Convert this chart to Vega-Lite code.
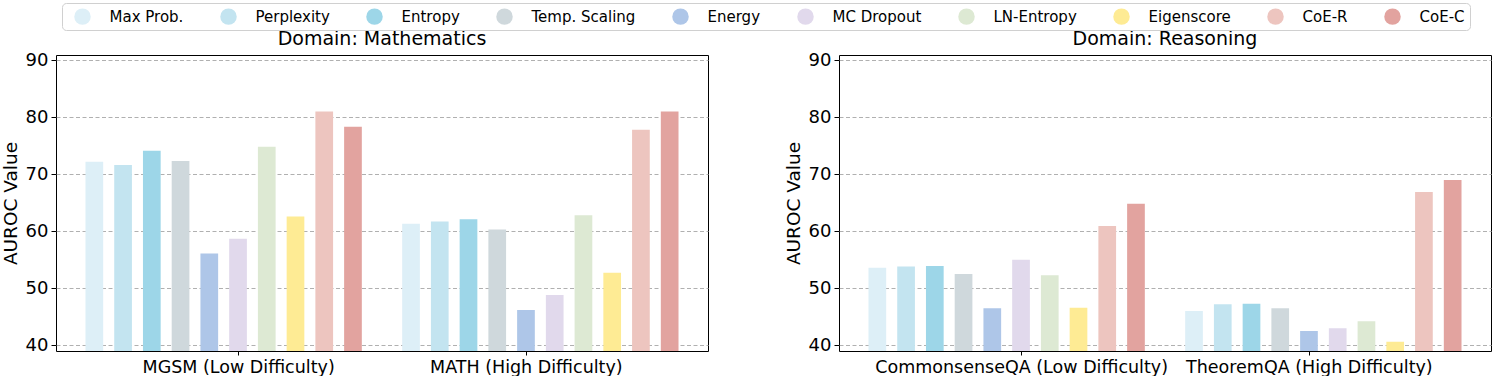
{
  "$schema": "https://vega.github.io/schema/vega-lite/v6.json",
  "padding": {"left": 0, "top": 2, "right": 0, "bottom": 0},
  "background": "white",
  "datasets": {
    "math": [
      {"dataset": "MGSM (Low Difficulty)", "method": "Max Prob.", "auroc": 72.2},
      {"dataset": "MGSM (Low Difficulty)", "method": "Perplexity", "auroc": 71.6},
      {"dataset": "MGSM (Low Difficulty)", "method": "Entropy", "auroc": 74.1},
      {"dataset": "MGSM (Low Difficulty)", "method": "Temp. Scaling", "auroc": 72.3},
      {"dataset": "MGSM (Low Difficulty)", "method": "Energy", "auroc": 56.1},
      {"dataset": "MGSM (Low Difficulty)", "method": "MC Dropout", "auroc": 58.7},
      {"dataset": "MGSM (Low Difficulty)", "method": "LN-Entropy", "auroc": 74.8},
      {"dataset": "MGSM (Low Difficulty)", "method": "Eigenscore", "auroc": 62.6},
      {"dataset": "MGSM (Low Difficulty)", "method": "CoE-R", "auroc": 81.0},
      {"dataset": "MGSM (Low Difficulty)", "method": "CoE-C", "auroc": 78.3},
      {"dataset": "MATH (High Difficulty)", "method": "Max Prob.", "auroc": 61.3},
      {"dataset": "MATH (High Difficulty)", "method": "Perplexity", "auroc": 61.7},
      {"dataset": "MATH (High Difficulty)", "method": "Entropy", "auroc": 62.1},
      {"dataset": "MATH (High Difficulty)", "method": "Temp. Scaling", "auroc": 60.3},
      {"dataset": "MATH (High Difficulty)", "method": "Energy", "auroc": 46.2},
      {"dataset": "MATH (High Difficulty)", "method": "MC Dropout", "auroc": 48.8},
      {"dataset": "MATH (High Difficulty)", "method": "LN-Entropy", "auroc": 62.8},
      {"dataset": "MATH (High Difficulty)", "method": "Eigenscore", "auroc": 52.7},
      {"dataset": "MATH (High Difficulty)", "method": "CoE-R", "auroc": 77.8},
      {"dataset": "MATH (High Difficulty)", "method": "CoE-C", "auroc": 81.0}
    ],
    "reasoning": [
      {"dataset": "CommonsenseQA (Low Difficulty)", "method": "Max Prob.", "auroc": 53.6},
      {"dataset": "CommonsenseQA (Low Difficulty)", "method": "Perplexity", "auroc": 53.8},
      {"dataset": "CommonsenseQA (Low Difficulty)", "method": "Entropy", "auroc": 53.9},
      {"dataset": "CommonsenseQA (Low Difficulty)", "method": "Temp. Scaling", "auroc": 52.5},
      {"dataset": "CommonsenseQA (Low Difficulty)", "method": "Energy", "auroc": 46.5},
      {"dataset": "CommonsenseQA (Low Difficulty)", "method": "MC Dropout", "auroc": 55.0},
      {"dataset": "CommonsenseQA (Low Difficulty)", "method": "LN-Entropy", "auroc": 52.3},
      {"dataset": "CommonsenseQA (Low Difficulty)", "method": "Eigenscore", "auroc": 46.6},
      {"dataset": "CommonsenseQA (Low Difficulty)", "method": "CoE-R", "auroc": 60.9},
      {"dataset": "CommonsenseQA (Low Difficulty)", "method": "CoE-C", "auroc": 64.8},
      {"dataset": "TheoremQA (High Difficulty)", "method": "Max Prob.", "auroc": 46.0},
      {"dataset": "TheoremQA (High Difficulty)", "method": "Perplexity", "auroc": 47.2},
      {"dataset": "TheoremQA (High Difficulty)", "method": "Entropy", "auroc": 47.3},
      {"dataset": "TheoremQA (High Difficulty)", "method": "Temp. Scaling", "auroc": 46.5},
      {"dataset": "TheoremQA (High Difficulty)", "method": "Energy", "auroc": 42.5},
      {"dataset": "TheoremQA (High Difficulty)", "method": "MC Dropout", "auroc": 43.0},
      {"dataset": "TheoremQA (High Difficulty)", "method": "LN-Entropy", "auroc": 44.2},
      {"dataset": "TheoremQA (High Difficulty)", "method": "Eigenscore", "auroc": 40.6},
      {"dataset": "TheoremQA (High Difficulty)", "method": "CoE-R", "auroc": 66.9},
      {"dataset": "TheoremQA (High Difficulty)", "method": "CoE-C", "auroc": 69.0}
    ]
  },
  "config": {
    "font": "DejaVu Sans",
    "view": {"stroke": "black", "strokeWidth": 1},
    "axis": {
      "domain": false,
      "labelColor": "black",
      "titleColor": "black",
      "tickColor": "black",
      "labelFont": "DejaVu Sans",
      "titleFont": "DejaVu Sans",
      "titleFontWeight": "normal",
      "labelLimit": 0
    },
    "axisX": {"title": null, "labelAngle": 0, "labelFontSize": 17.5, "labelPadding": 3, "tickSize": 4, "grid": false},
    "title": {"font": "DejaVu Sans", "fontWeight": "normal", "fontSize": 19, "color": "black", "offset": 2}
  },
  "spacing": 74,
  "resolve": {"scale": {"color": "shared"}},
  "hconcat": [
    {
      "data": {"name": "math"},
      "width": 652,
      "height": 296,
      "title": "Domain: Mathematics",
      "resolve": {"axis": {"x": "independent"}},
      "encoding": {
        "xOffset": {
          "field": "method", "type": "nominal",
          "sort": ["Max Prob.", "Perplexity", "Entropy", "Temp. Scaling", "Energy", "MC Dropout", "LN-Entropy", "Eigenscore", "CoE-R", "CoE-C"],
          "scale": {"paddingInner": 0.384, "paddingOuter": 0.702}
        },
        "y": {
          "field": "auroc", "type": "quantitative",
          "scale": {"domain": [39, 90.9], "nice": false, "zero": false},
          "axis": {
            "title": "AUROC Value", "titleFontSize": 18.5, "titlePadding": 5,
            "values": [40, 50, 60, 70, 80, 90], "labelFontSize": 18, "labelPadding": 3, "tickSize": 5,
            "grid": true, "gridColor": "#b0b0b0", "gridDash": [4, 2.5], "gridWidth": 1
          }
        },
        "color": {
          "field": "method", "type": "nominal",
          "scale": {
            "domain": ["Max Prob.", "Perplexity", "Entropy", "Temp. Scaling", "Energy", "MC Dropout", "LN-Entropy", "Eigenscore", "CoE-R", "CoE-C"],
            "range": ["#ddeff7", "#c3e4f0", "#9dd6e8", "#cfd8dc", "#aec6e8", "#e1d9ec", "#dde9d3", "#feeb94", "#edc5bf", "#e2a39f"]
          },
          "legend": {
            "title": null, "orient": "none", "legendX": 6, "legendY": -52, "direction": "horizontal", "columns": 10,
            "symbolType": "circle", "symbolSize": 272, "symbolOffset": 7, "symbolStrokeWidth": 0,
            "labelOffset": 18.5, "labelFontSize": 15, "labelFont": "DejaVu Sans", "labelColor": "black",
            "columnPadding": 29, "padding": 5,
            "strokeColor": "#d0d0d0", "cornerRadius": 4, "fillColor": "white"
          }
        }
      },
      "layer": [
        {
          "mark": {"type": "bar", "clip": true},
          "encoding": {
            "x": {
              "field": "dataset", "type": "nominal",
              "sort": ["MGSM (Low Difficulty)", "MATH (High Difficulty)"],
              "scale": {"paddingInner": 0, "paddingOuter": 0.0294},
              "axis": {"orient": "bottom", "values": ["MGSM (Low Difficulty)"], "tickOffset": 14.5}
            }
          }
        },
        {
          "mark": {"type": "bar", "clip": true, "opacity": 0},
          "encoding": {
            "x": {
              "field": "dataset", "type": "nominal",
              "sort": ["MGSM (Low Difficulty)", "MATH (High Difficulty)"],
              "axis": {"orient": "bottom", "values": ["MATH (High Difficulty)"], "tickOffset": -14.5}
            }
          }
        }
      ]
    },
    {
      "data": {"name": "reasoning"},
      "width": 652,
      "height": 296,
      "title": "Domain: Reasoning",
      "resolve": {"axis": {"x": "independent"}},
      "encoding": {
        "xOffset": {
          "field": "method", "type": "nominal",
          "sort": ["Max Prob.", "Perplexity", "Entropy", "Temp. Scaling", "Energy", "MC Dropout", "LN-Entropy", "Eigenscore", "CoE-R", "CoE-C"],
          "scale": {"paddingInner": 0.384, "paddingOuter": 0.702}
        },
        "y": {
          "field": "auroc", "type": "quantitative",
          "scale": {"domain": [39, 90.9], "nice": false, "zero": false},
          "axis": {
            "title": "AUROC Value", "titleFontSize": 18.5, "titlePadding": 5,
            "values": [40, 50, 60, 70, 80, 90], "labelFontSize": 18, "labelPadding": 3, "tickSize": 5,
            "grid": true, "gridColor": "#b0b0b0", "gridDash": [4, 2.5], "gridWidth": 1
          }
        },
        "color": {"field": "method", "type": "nominal"}
      },
      "layer": [
        {
          "mark": {"type": "bar", "clip": true},
          "encoding": {
            "x": {
              "field": "dataset", "type": "nominal",
              "sort": ["CommonsenseQA (Low Difficulty)", "TheoremQA (High Difficulty)"],
              "scale": {"paddingInner": 0, "paddingOuter": 0.0294},
              "axis": {"orient": "bottom", "values": ["CommonsenseQA (Low Difficulty)"], "tickOffset": 14.5}
            }
          }
        },
        {
          "mark": {"type": "bar", "clip": true, "opacity": 0},
          "encoding": {
            "x": {
              "field": "dataset", "type": "nominal",
              "sort": ["CommonsenseQA (Low Difficulty)", "TheoremQA (High Difficulty)"],
              "axis": {"orient": "bottom", "values": ["TheoremQA (High Difficulty)"], "tickOffset": -14.5}
            }
          }
        }
      ]
    }
  ]
}
